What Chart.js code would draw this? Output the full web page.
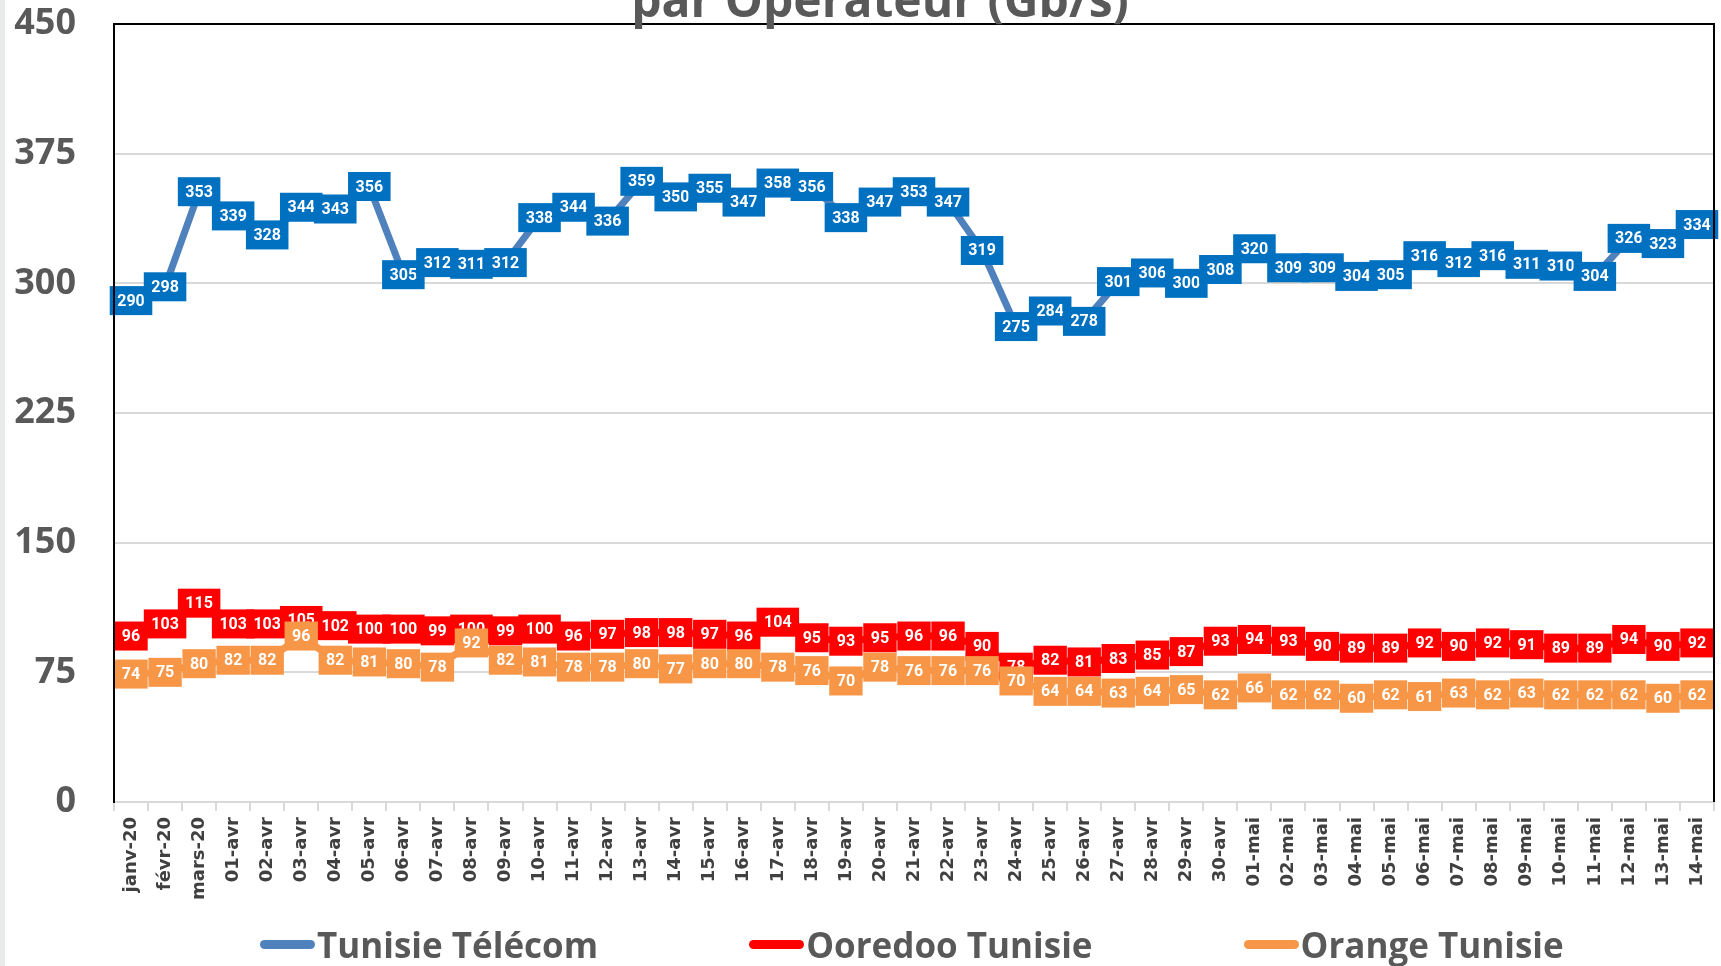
<!DOCTYPE html>
<html lang="fr">
<head>
<meta charset="UTF-8">
<title>Débit par Opérateur (Gb/s)</title>
<script src="https://cdn.jsdelivr.net/npm/chart.js"></script>
<style>
  html, body { margin: 0; padding: 0; background: #e8ebe9; }
  #wrap { position: absolute; left: 5px; top: 0; width: 1716px; height: 966px; background: #fff; overflow: hidden; }
  #legend { position: absolute; left: 255px; top: 927px; display: flex; gap: 151px; align-items: center;
            font: bold 35px 'Open Sans', sans-serif; line-height: 35px; color: #595959; white-space: nowrap; }
  #legend .item { display: flex; align-items: center; }
  #legend .sw { width: 55px; height: 9px; border-radius: 5px; margin-right: 2px; }
</style>
</head>
<body>
<div id="wrap">
  <canvas id="debitChart"></canvas>
  <div id="legend"></div>
</div>

<script>
    // Categories (dates)
    const labels = ['janv-20', 'févr-20', 'mars-20',
        '01-avr', '02-avr', '03-avr', '04-avr', '05-avr', '06-avr', '07-avr', '08-avr', '09-avr', '10-avr',
        '11-avr', '12-avr', '13-avr', '14-avr', '15-avr', '16-avr', '17-avr', '18-avr', '19-avr', '20-avr',
        '21-avr', '22-avr', '23-avr', '24-avr', '25-avr', '26-avr', '27-avr', '28-avr', '29-avr', '30-avr',
        '01-mai', '02-mai', '03-mai', '04-mai', '05-mai', '06-mai', '07-mai', '08-mai', '09-mai', '10-mai',
        '11-mai', '12-mai', '13-mai', '14-mai'];

    // Gb/s per operator
    const tunisieTelecom = [290, 298, 353, 339, 328, 344, 343, 356, 305, 312, 311, 312, 338, 344, 336, 359,
        350, 355, 347, 358, 356, 338, 347, 353, 347, 319, 275, 284, 278, 301, 306, 300, 308, 320, 309, 309,
        304, 305, 316, 312, 316, 311, 310, 304, 326, 323, 334];
    const ooredoo = [96, 103, 115, 103, 103, 105, 102, 100, 100, 99, 100, 99, 100, 96, 97, 98, 98, 97, 96,
        104, 95, 93, 95, 96, 96, 90, 78, 82, 81, 83, 85, 87, 93, 94, 93, 90, 89, 89, 92, 90, 92, 91, 89, 89,
        94, 90, 92];
    const orange = [74, 75, 80, 82, 82, 96, 82, 81, 80, 78, 92, 82, 81, 78, 78, 80, 77, 80, 80, 78, 76, 70,
        78, 76, 76, 76, 70, 64, 64, 63, 64, 65, 62, 66, 62, 62, 60, 62, 61, 63, 62, 63, 62, 62, 62, 60, 62];

    const yTicks = [0, 75, 150, 225, 300, 375, 450];

    // value boxes drawn on every point, series by series
    const boxLabels = {
        id: 'boxLabels',
        afterDatasetsDraw(chart) {
            const ctx = chart.ctx;
            ctx.save();
            ctx.font = 'bold 16px Roboto, sans-serif';
            ctx.textAlign = 'center';
            ctx.textBaseline = 'middle';
            chart.data.datasets.forEach((ds, i) => {
                const meta = chart.getDatasetMeta(i);
                meta.data.forEach((pt, j) => {
                    const txt = String(ds.data[j]);
                    const w = ctx.measureText(txt).width + 15;
                    const h = 29;
                    ctx.fillStyle = ds.boxColor;
                    ctx.fillRect(pt.x - w / 2, pt.y - h / 2, w, h);
                    ctx.fillStyle = '#fff';
                    ctx.fillText(txt, pt.x, pt.y + 1);
                });
            });
            ctx.restore();
        }
    };

    // black frame + cut title at the top
    const frame = {
        id: 'frame',
        afterDraw(chart) {
            const { ctx, chartArea: a } = chart;
            ctx.save();
            ctx.strokeStyle = '#000';
            ctx.lineWidth = 2;
            ctx.beginPath();
            ctx.moveTo(a.left, a.bottom);
            ctx.lineTo(a.left, a.top);
            ctx.lineTo(a.right, a.top);
            ctx.lineTo(a.right, a.bottom);
            ctx.stroke();
            ctx.fillStyle = '#595959';
            ctx.font = 'bold 48px "Open Sans", sans-serif';
            ctx.textAlign = 'center';
            ctx.textBaseline = 'alphabetic';
            ctx.fillText('par Opérateur (Gb/s)', 875, 17);
            ctx.restore();
        }
    };

    const ctx = document.getElementById('debitChart').getContext('2d');
    const chart = new Chart(ctx, {
        type: 'line',
        data: {
            labels: labels,
            datasets: [
                { label: 'Tunisie Télécom', data: tunisieTelecom, borderColor: '#4f81bd', boxColor: '#0070c0' },
                { label: 'Ooredoo Tunisie', data: ooredoo, borderColor: '#ff0000', boxColor: '#ff0000' },
                { label: 'Orange Tunisie', data: orange, borderColor: '#f79646', boxColor: '#f79646' }
            ].map(d => Object.assign(d, { borderWidth: 7, pointRadius: 0, tension: 0, fill: false }))
        },
        options: {
            responsive: true,
            maintainAspectRatio: false,
            animation: false,
            layout: { padding: { top: 24, right: 7, bottom: 61, left: 0 } },
            plugins: {
                legend: { display: false },
                title: { display: false },
                tooltip: { enabled: false }
            },
            scales: {
                x: {
                    offset: true,
                    grid: { offset: true, drawOnChartArea: false, tickLength: 9, color: '#d9d9d9', lineWidth: 2 },
                    border: { color: '#d9d9d9', width: 2 },
                    ticks: {
                        autoSkip: false, minRotation: 90, maxRotation: 90, padding: 6,
                        color: '#404040', font: { family: 'DejaVu Sans', size: 18, weight: 'bold' }
                    },
                    afterFit: s => { s.height = 103; s.paddingLeft = 0; s.paddingRight = 0; }
                },
                y: {
                    min: 0, max: 450,
                    afterBuildTicks: s => { s.ticks = yTicks.map(v => ({ value: v })); },
                    grid: { color: '#d9d9d9', lineWidth: 2, drawTicks: false },
                    border: { color: '#000', width: 2 },
                    ticks: {
                        padding: 38, color: '#595959',
                        font: { family: 'Open Sans', size: 36, weight: 'bold' }
                    },
                    afterFit: s => { s.width = 109; s.paddingTop = 0; s.paddingBottom = 0; }
                }
            }
        },
        plugins: [boxLabels, frame]
    });

    // legend below the chart
    const legend = document.getElementById('legend');
    chart.data.datasets.forEach(ds => {
        const item = document.createElement('div');
        item.className = 'item';
        const sw = document.createElement('span');
        sw.className = 'sw';
        sw.style.background = ds.borderColor;
        const t = document.createElement('span');
        t.textContent = ds.label;
        item.appendChild(sw);
        item.appendChild(t);
        legend.appendChild(item);
    });
</script>
</body>
</html>
